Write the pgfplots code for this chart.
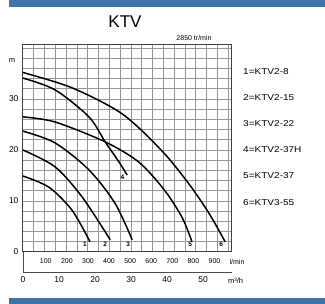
\documentclass[border=0pt]{standalone}
\usepackage{fontspec}
\setmainfont{Liberation Sans}
\usepackage{pgfplots}
\pgfplotsset{compat=1.18}
\definecolor{barblue}{RGB}{61,114,170}
\definecolor{gridc}{RGB}{150,150,150}
\begin{document}
\begin{tikzpicture}
\useasboundingbox (0,0) rectangle (325pt,-304pt);
\fill[barblue] (9pt,0) rectangle (325pt,-7pt);
\fill[barblue] (9pt,-298pt) rectangle (325pt,-304pt);
\node[font=\fontsize{17}{17}\selectfont] at (125pt,-22pt) {KTV};
\node[font=\fontsize{7}{7}\selectfont] at (194pt,-38pt) {2850 tr/min};
\node[font=\fontsize{7.5}{7.5}\selectfont] at (12pt,-60pt) {m};
\foreach \t/\yy in {1=KTV2-8/72,2=KTV2-15/98,3=KTV2-22/124,4=KTV2-37H/150,5=KTV2-37/176,6=KTV3-55/203}{
  \node[anchor=west,font=\fontsize{8.5}{8.5}\selectfont,inner sep=0pt,xscale=1.18] at (243pt,-\yy pt) {\t};
}
% lower box
\draw[gray!60!black,line width=0.9pt] (23pt,-252pt) -- (23pt,-272pt) -- (232pt,-272pt);
\begin{axis}[
  at={(23pt,-252pt)}, anchor=south west,
  width=209pt, height=207pt, scale only axis,
  xmin=0, xmax=58, ymin=0, ymax=40.6,
  xtick={0,10,20,30,40,50}, ytick={0,10,20,30},
  minor xtick={0,3,...,57}, minor ytick={0,2,...,40},
  grid=minor, minor grid style={gridc, line width=1pt},
  major tick length=0pt, minor tick length=0pt,
  axis line style={gray!50!black, line width=1pt},
  ticklabel style={font=\fontsize{8.5}{8.5}\selectfont},
  xticklabel style={yshift=-21pt},
  yticklabel style={xshift=-1pt},
  /pgf/number format/assume math mode=true,
  clip=false,
]
\addplot[black, line width=1.5pt, smooth] coordinates {(0,14.9) (7.2,12.7) (13.6,8.2) (18.6,2.0)};
\addplot[black, line width=1.5pt, smooth] coordinates {(0,20.0) (8.9,16.7) (16.4,10.8) (24.2,2.4)};
\addplot[black, line width=1.5pt, smooth] coordinates {(0,23.7) (8.9,21.4) (18.3,16.1) (25.5,9.6) (30.3,2.4)};
\addplot[black, line width=1.5pt, smooth] coordinates {(0,34.1) (8.9,31.8) (18.3,26.5) (22.8,21.6) (26.7,17.6) (28.9,15.1)};
\addplot[black, line width=1.5pt, smooth] coordinates {(0,26.5) (8.9,25.5) (22.8,21.6) (32.2,17.6) (39.4,12.0) (44.2,6.7) (46.9,2.0)};
\addplot[black, line width=1.5pt, smooth] coordinates {(0,35.2) (13.6,32.2) (27.5,27.1) (38.6,19.8) (46.1,13.3) (51.7,7.5) (56.1,2.0)};
\begin{scope}[font=\fontsize{6.5}{6.5}\selectfont\bfseries]
\node at (axis cs:17.2,1.6) {1};
\node at (axis cs:22.8,1.6) {2};
\node at (axis cs:29.2,1.6) {3};
\node at (axis cs:27.6,14.6) {4};
\node at (axis cs:46.4,1.6) {5};
\node at (axis cs:55.0,1.6) {6};
\end{scope}
\node[font=\fontsize{7.5}{7.5}\selectfont] at (axis cs:59.0,0) [yshift=-29pt] {m³/h};
\node[font=\fontsize{7}{7}\selectfont] at (axis cs:59.4,0) [yshift=-10pt] {l/min};
\end{axis}
\begin{axis}[
  at={(23pt,-252pt)}, anchor=south west,
  width=209pt, height=207pt, scale only axis,
  xmin=-8, xmax=983, ymin=0, ymax=40.6,
  hide y axis, axis x line*=bottom, x axis line style={draw=none},
  xtick={100,200,...,900},
  major tick length=0pt,
  ticklabel style={font=\fontsize{7}{7}\selectfont},
  xticklabel style={yshift=-3pt},
  /pgf/number format/assume math mode=true,
]
\addplot[draw=none] coordinates {(0,0)};
\end{axis}
\end{tikzpicture}
\end{document}
